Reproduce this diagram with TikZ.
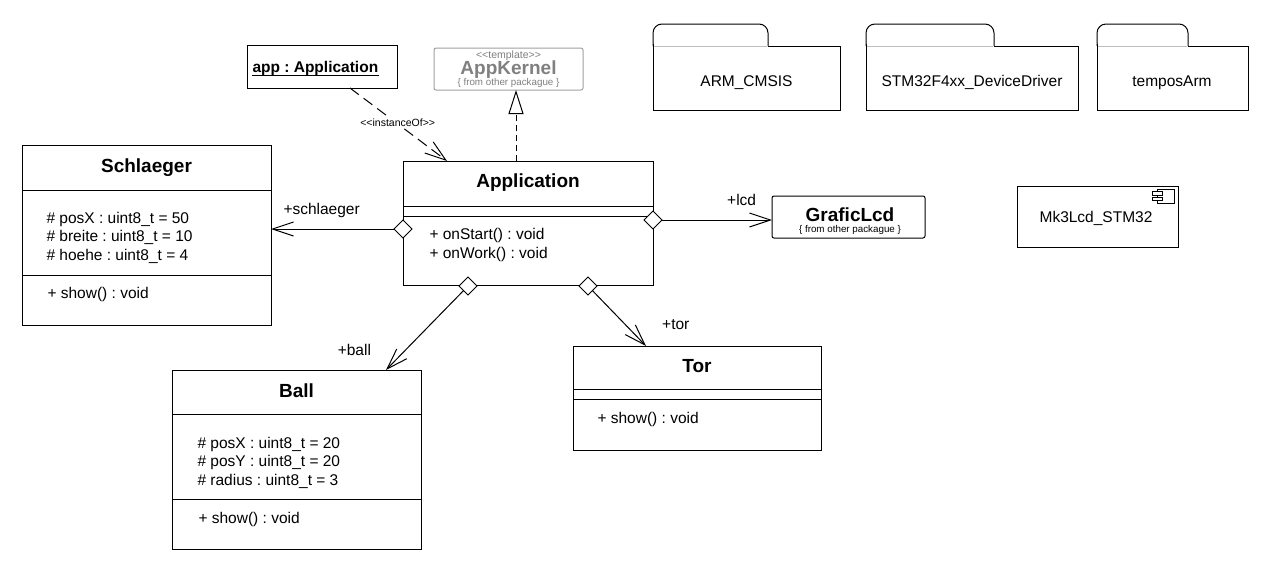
\documentclass[tikz,border=0pt]{standalone}
\usepackage{fontspec}
\setmainfont{Liberation Sans}
\usetikzlibrary{arrows.meta,calc,shapes.geometric}
\definecolor{kgray}{RGB}{128,128,128}
\definecolor{kline}{RGB}{160,160,160}
\definecolor{tabline}{RGB}{190,190,190}
\frenchspacing
\begin{document}
\begin{tikzpicture}[x=1pt,y=-1pt,line width=1pt,
  cls/.style={draw,rectangle,inner sep=0pt,outer sep=0pt,anchor=north west},
  ttl/.style={anchor=base,inner sep=0pt,font=\fontsize{19}{22}\selectfont\bfseries},
  txt/.style={anchor=base west,inner sep=0pt,font=\fontsize{15.5}{19}\selectfont},
  ctxt/.style={anchor=base,inner sep=0pt,font=\fontsize{15.5}{19}\selectfont},
  small/.style={anchor=base,inner sep=0pt,font=\fontsize{9.8}{11}\selectfont},
  agg/.style={draw,shape=diamond,fill=white,minimum width=18pt,minimum height=18pt,inner sep=0pt,outer sep=0pt,aspect=1},
  nav/.style={-{Straight Barb[length=21pt,width=14pt]}},
  realize/.style={dash pattern=on 6pt off 4pt,-{Triangle[fill=white,length=24pt,width=15pt]}},
  depend/.style={dash pattern=on 11pt off 6pt,nav},
  pkg/.style={line width=1pt}
]
\frenchspacing
\useasboundingbox (0,0) rectangle (1268,568);
\fill[white] (0,0) rectangle (1268,568);

% ---------- Schlaeger ----------
\node[cls,minimum width=249pt,minimum height=180pt] (schl) at (22,145) {};
\draw (schl.west |- 0,190) -- (schl.east |- 0,190);
\draw (schl.west |- 0,275) -- (schl.east |- 0,275);
\node[ttl] (schlT) at (146.5,172) {Schlaeger};
\node[txt] (schlA1) at (46,223) {\# posX : uint8\_t = 50};
\node[txt] (schlA2) at (46,241.5) {\# breite : uint8\_t = 10};
\node[txt] (schlA3) at (46,260) {\# hoehe : uint8\_t = 4};
\node[txt] (schlM1) at (47,298) {+ show() : void};

% ---------- Application ----------
\node[cls,minimum width=250pt,minimum height=124pt] (appl) at (403,161) {};
\draw (appl.west |- 0,206) -- (appl.east |- 0,206);
\draw (appl.west |- 0,216) -- (appl.east |- 0,216);
\node[ttl] (applT) at (528,187.5) {Application};
\node[txt] (applM1) at (429,239) {+ onStart() : void};
\node[txt] (applM2) at (429,258) {+ onWork() : void};

% ---------- Ball ----------
\node[cls,minimum width=249pt,minimum height=179pt] (ball) at (172,370) {};
\draw (ball.west |- 0,414) -- (ball.east |- 0,414);
\draw (ball.west |- 0,499) -- (ball.east |- 0,499);
\node[ttl] (ballT) at (296.5,397) {Ball};
\node[txt] (ballA1) at (197,448.5) {\# posX : uint8\_t = 20};
\node[txt] (ballA2) at (197,466.5) {\# posY : uint8\_t = 20};
\node[txt] (ballA3) at (197,485) {\# radius : uint8\_t = 3};
\node[txt] (ballM1) at (198,523.5) {+ show() : void};

% ---------- Tor ----------
\node[cls,minimum width=248pt,minimum height=104pt] (tor) at (573,346) {};
\draw (tor.west |- 0,389) -- (tor.east |- 0,389);
\draw (tor.west |- 0,399) -- (tor.east |- 0,399);
\node[ttl] (torT) at (697,372.5) {Tor};
\node[txt] (torM1) at (597,423.5) {+ show() : void};

% ---------- app : Application (instance) ----------
\node[cls,minimum width=150pt,minimum height=43pt] (inst) at (247,45) {};
\node[anchor=base west,inner sep=0pt,font=\fontsize{15.5}{19}\selectfont\bfseries] (instT) at (252,72.7) {app : Application};
\draw ($(instT.base west)+(0,2.5)$) -- ($(instT.base east)+(0,2.5)$);

% ---------- AppKernel ----------
\node[cls,draw=kline,rounded corners=2pt,minimum width=149pt,minimum height=42pt] (kern) at (434,48) {};
\node[small,text=kgray,font=\fontsize{10.5}{12}\selectfont] (kernS) at (508.5,58.5) {<\kern0pt<template>\kern0pt>};
\node[ttl,text=kgray] (kernT) at (508.5,74.3) {AppKernel};
\node[small,text=kgray] (kernF) at (508.5,85.5) {\{ from other packague \}};

% ---------- GraficLcd ----------
\node[cls,rounded corners=2pt,minimum width=153pt,minimum height=42pt] (lcd) at (772,196) {};
\node[ttl] (lcdT) at (850,221.7) {GraficLcd};
\node[small] (lcdF) at (850,232) {\{ from other packague \}};

% ---------- Mk3Lcd_STM32 component ----------
\node[cls,minimum width=161pt,minimum height=61pt] (mk3) at (1017,186) {};
\node[ctxt] (mk3T) at (1096,222.5) {Mk3Lcd\_STM32};
\draw (1157,189) rectangle (1174,203);
\draw[fill=white] (1152,191.5) rectangle (1162,195);
\draw[fill=white] (1152,197) rectangle (1162,200.5);

% ---------- packages ----------
% ARM_CMSIS
\draw[pkg,rounded corners=9pt] (653,46) -- (653,24) -- (768,24) -- (768,46);
\draw[pkg] (768,46) -- (840,46) -- (840,110) -- (653,110) -- (653,44);
\draw[tabline] (654,46) -- (767,46);
\node[ctxt] (pkg1) at (746.5,86) {ARM\_CMSIS};
% STM32F4xx_DeviceDriver
\draw[pkg,rounded corners=9pt] (866,46) -- (866,24) -- (994,24) -- (994,46);
\draw[pkg] (994,46) -- (1078,46) -- (1078,110) -- (866,110) -- (866,44);
\draw[tabline] (867,46) -- (993,46);
\node[ctxt] (pkg2) at (972,86) {STM32F4xx\_DeviceDriver};
% temposArm
\draw[pkg,rounded corners=9pt] (1097,46) -- (1097,24) -- (1188,24) -- (1188,46);
\draw[pkg] (1188,46) -- (1248,46) -- (1248,110) -- (1097,110) -- (1097,44);
\draw[tabline] (1098,46) -- (1187,46);
\node[ctxt] (pkg3) at (1172,86) {temposArm};

% ---------- aggregation diamonds ----------
\node[agg] (d1) at (403,229) {};
\node[agg] (d2) at (653,220) {};
\node[agg] (d3) at (468,286) {};
\node[agg] (d4) at (588,286) {};

% ---------- connectors ----------
\draw[nav] (d1) -- (d1 -| schl.east);
\draw[nav] (d2) -- (d2 -| lcd.west);
\draw[nav] (d3) -- ($(ball.north west)+(214,0)$);
\draw[nav] (d4) -- ($(tor.north west)+(73,0)$);
\draw[realize] ($(appl.north west)+(113,0)$) -- ($(kern.south west)+(82,0)$);
\draw[depend] ($(inst.south west)+(103,0)$) -- ($(appl.north west)+(44,0)$);
\node[fill=white,inner sep=1pt,anchor=base,font=\fontsize{10.5}{12}\selectfont] (ioL) at (397.7,126.5) {<\kern0pt<instanceOf>\kern0pt>};

% ---------- role labels ----------
\node[txt] (lSch) at (283,214) {+schlaeger};
\node[txt] (lLcd) at (726.7,205) {+lcd};
\node[txt] (lBall) at (337.3,355) {+ball};
\node[txt] (lTor) at (661.7,329.3) {+tor};
\end{tikzpicture}
\end{document}
